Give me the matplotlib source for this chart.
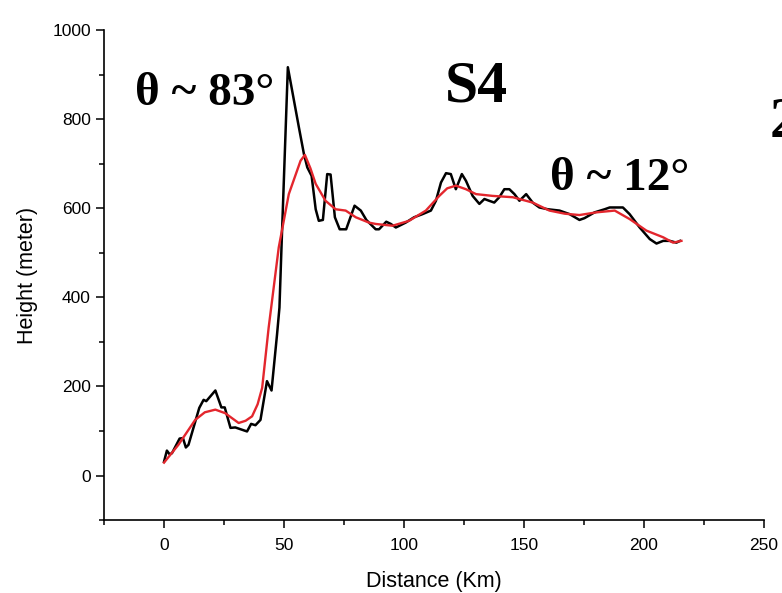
import matplotlib
matplotlib.use("Agg")
import matplotlib.pyplot as plt
from matplotlib.ticker import MultipleLocator

# Raw profile (black)
black_d = [0, 1.2, 2.3, 3.3, 6.5, 7.9, 9.1, 10.2, 14.7, 16.5, 17.6, 21.4, 23.9, 25.3,
           27.7, 29.7, 34.6, 36.3, 38.1, 40.2, 42.9, 44.8, 47.1, 48.1, 49.0, 51.6, 56.2,
           58.3, 59.7, 61.5, 63.2, 64.5, 66.2, 68.0, 69.4, 71.2, 73.2, 75.9, 79.4, 82.0,
           84.3, 88.2, 89.6, 92.6, 94.5, 96.6, 100.7, 104.2, 107.7, 111.2, 113.3, 115.4,
           117.5, 119.5, 121.6, 124.1, 125.8, 128.6, 131.4, 133.5, 135.5, 137.6, 139.7,
           141.8, 143.9, 146.0, 148.1, 150.9, 153.6, 156.4, 159.9, 164.8, 169.0, 173.1,
           175.2, 179.4, 183.6, 185.7, 191.2, 194.0, 198.2, 202.4, 205.2, 208.0, 210.7,
           213.5, 215.0]
black_h = [31, 56, 48, 50, 83, 84, 63, 69, 152, 170, 167, 191, 153, 153,
           107, 108, 99, 116, 113, 125, 212, 191, 317, 377, 520, 917, 782,
           722, 692, 673, 598, 572, 574, 677, 676, 580, 553, 553, 606, 595,
           574, 553, 553, 570, 565, 557, 568, 580, 587, 595, 617, 658,
           679, 677, 643, 677, 662, 628, 610, 621, 617, 613, 625,
           643, 643, 632, 617, 632, 613, 602, 598, 595, 587, 574,
           578, 591, 598, 602, 602, 587, 557, 531, 521, 527, 527,
           523, 527]

# Smoothed profile (red)
red_d = [0, 6, 13, 17, 21.4, 25.5, 31.1, 34, 36.7, 39, 40.9, 43.6, 47.8, 52, 56.9,
         58.7, 61, 63.2, 67.3, 71.5, 75.7, 79.9, 85.4, 88.2, 95.2, 102.1, 109.1, 114.7,
         118, 121.6, 125.8, 130, 136.9, 145.3, 153.6, 160.6, 167, 173.1, 180.1, 187.8,
         194, 201, 208, 212.1, 215.6]
red_h = [29, 69, 125, 142, 148, 140, 118, 123, 133, 160, 197, 332, 512, 632, 707,
         720, 690, 655, 617, 598, 595, 580, 568, 565, 561, 572, 595, 628,
         645, 651, 643, 632, 628, 625, 613, 595, 588, 585, 591, 595,
         576, 550, 535, 523, 527]

x_ticks = [0, 50, 100, 150, 200, 250]
y_ticks = [0, 200, 400, 600, 800, 1000]

plt.rcParams['font.family'] = ['Liberation Sans', 'DejaVu Sans']

fig = plt.figure(figsize=(7.82, 5.93), dpi=100)
ax = fig.add_axes([0.133, 0.123, 0.844, 0.826])

ax.plot(black_d, black_h, color='black', lw=1.8, zorder=2)
ax.plot(red_d, red_h, color='#e3262d', lw=1.7, zorder=3)

ax.set_xlim(-25, 250)
ax.set_ylim(-100, 1000)
ax.set_xticks(x_ticks)
ax.set_yticks(y_ticks)
ax.xaxis.set_minor_locator(MultipleLocator(25))
ax.yaxis.set_minor_locator(MultipleLocator(100))
ax.tick_params(which='major', direction='out', length=6, width=1.1, labelsize=12.5)
ax.tick_params(which='minor', direction='out', length=3.5, width=1.1)
ax.tick_params(axis='x', which='major', pad=7)
for s in ['top', 'right']:
    ax.spines[s].set_visible(False)
for s in ['left', 'bottom']:
    ax.spines[s].set_linewidth(1.2)

ax.set_xlabel('Distance (Km)', fontsize=15.5, labelpad=13)
ax.set_ylabel('Height (meter)', fontsize=15.5, labelpad=10)

serif = ['Liberation Serif', 'DejaVu Serif']
fig.text(135/782, 1 - 105/593, 'θ ~ 83°', family=serif, fontweight='bold',
         fontsize=34, ha='left', va='baseline')
fig.text(445/782, 1 - 102/593, 'S4', family=serif, fontweight='bold',
         fontsize=43, ha='left', va='baseline')
fig.text(550/782, 1 - 190/593, 'θ ~ 12°', family=serif, fontweight='bold',
         fontsize=34, ha='left', va='baseline')
fig.text(770/782, 1 - 137/593, '2', family=serif, fontweight='bold',
         fontsize=41, ha='left', va='baseline')

fig.savefig('out.png', dpi=100)
